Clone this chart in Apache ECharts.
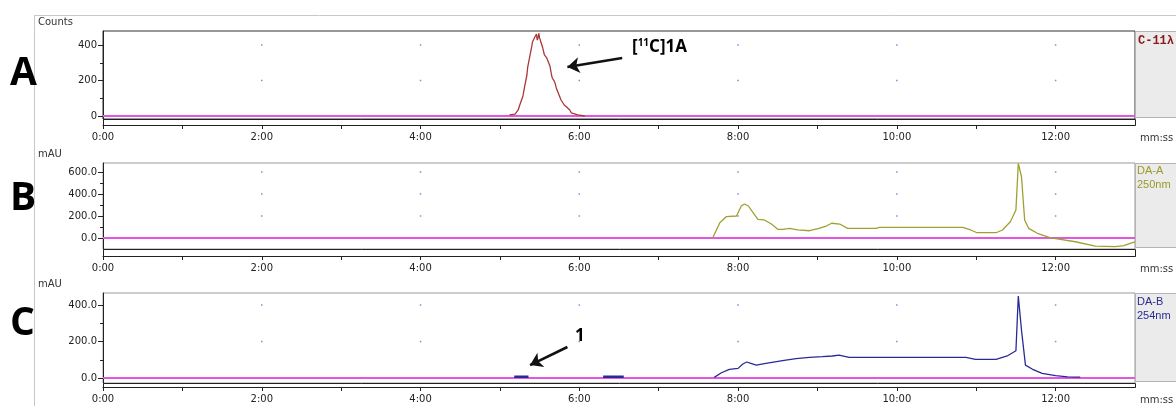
<!DOCTYPE html>
<html>
<head>
<meta charset="utf-8">
<script src="https://cdn.jsdelivr.net/npm/echarts@6/dist/echarts.min.js"></script>
<style>
  html, body { margin: 0; padding: 0; background: #fff; }
  #chart { width: 1176px; height: 406px; }
</style>
</head>
<body>
<div id="chart"></div>
<script>
// x axis (minutes)
const majorMinutes = [0, 2, 4, 6, 8, 10, 12]
const allMinutes = [0, 1, 2, 3, 4, 5, 6, 7, 8, 9, 10, 11, 12]

// y ticks per panel
const countsTicks = [0, 200, 400]
const countsMinor = [100, 300]
const daATicks = [0, 200, 400, 600]
const daAMinor = [100, 300, 500]
const daBTicks = [0, 200, 400]
const daBMinor = [100, 300]

// A: radio trace C-11
const c11Time = [5.12, 5.19, 5.23, 5.25, 5.29, 5.31, 5.34, 5.35, 5.38, 5.40, 5.41, 5.44, 5.46, 5.47, 5.48, 5.49, 5.50, 5.52, 5.54, 5.56, 5.59, 5.60, 5.63, 5.65, 5.66, 5.69, 5.71, 5.73, 5.75, 5.77, 5.79, 5.81, 5.84, 5.88, 5.90, 5.92, 5.98, 6.07]
const c11Counts = [6, 11, 34, 62, 113, 163, 231, 276, 344, 389, 417, 445, 462, 428, 440, 465, 440, 411, 383, 344, 327, 315, 282, 231, 214, 192, 158, 135, 113, 90, 85, 62, 51, 34, 17, 6, 6, 0]

// B: DA-A 250nm
const daATime = [7.68, 7.77, 7.85, 7.98, 8.04, 8.08, 8.13, 8.18, 8.25, 8.33, 8.42, 8.50, 8.56, 8.65, 8.75, 8.90, 9.02, 9.11, 9.18, 9.28, 9.38, 9.74, 9.78, 10.83, 10.93, 11.01, 11.25, 11.33, 11.43, 11.50, 11.53, 11.57, 11.61, 11.66, 11.77, 11.92, 11.98, 12.25, 12.50, 12.75, 12.86, 12.94, 13.0]
const daAValues = [0, 139, 194, 200, 291, 309, 291, 239, 170, 164, 127, 79, 79, 88, 73, 66, 88, 109, 134, 127, 88, 88, 97, 97, 73, 48, 48, 73, 148, 255, 679, 557, 164, 88, 43, 6, -3, -34, -73, -79, -70, -48, -36]

// C: DA-B 254nm
const daBTime = [7.70, 7.79, 7.89, 8.00, 8.06, 8.11, 8.16, 8.23, 8.35, 8.56, 8.73, 8.90, 9.06, 9.19, 9.27, 9.40, 10.87, 10.99, 11.25, 11.39, 11.50, 11.53, 11.57, 11.62, 11.71, 11.83, 12.00, 12.15, 12.31]
const daBValues = [4, 29, 48, 53, 77, 88, 81, 71, 81, 95, 106, 113, 117, 121, 126, 113, 113, 102, 102, 121, 150, 449, 263, 71, 48, 26, 13, 7, 5]
const daBBlipTime = [5.18, 5.36, null, 6.30, 6.56]
const daBBlipValues = [7, 7, null, 7, 7]

// annotation arrows, data units [min, value]
const arrowA = [[6.54, 327], [5.85, 276]]
const arrowC = [[5.85, 170], [5.38, 71]]

const PLOT_LEFT = 103
const PLOT_RIGHT = 1135

const panels = [
  { top: 31, bottom: 119, axis: 125, min: -17, max: 479, ticks: countsTicks, minor: countsMinor, digits: 0, color: '#a83838', time: c11Time, values: c11Counts, unit: 'Counts', letter: 'A', letterY: 74, border: '#333', arrow: arrowA },
  { top: 163, bottom: 249, axis: 256, min: -100, max: 682, ticks: daATicks, minor: daAMinor, digits: 1, color: '#a0a032', time: daATime, values: daAValues, unit: 'mAU', letter: 'B', letterY: 199, border: '#999' },
  { top: 293, bottom: 383, axis: 387, min: -27, max: 466, ticks: daBTicks, minor: daBMinor, digits: 1, color: '#2a2a96', time: daBTime, values: daBValues, unit: 'mAU', letter: 'C', letterY: 324, border: '#999', arrow: arrowC }
]

const chart = echarts.init(document.getElementById('chart'))

const grid = []
const xAxis = []
const yAxis = []
const series = []
const graphic = [
  { type: 'line', shape: { x1: 34.5, y1: 15, x2: 34.5, y2: 406 }, style: { stroke: '#c8c8c8', lineWidth: 1 } },
  { type: 'line', shape: { x1: 34, y1: 15.5, x2: 1176, y2: 15.5 }, style: { stroke: '#c8c8c8', lineWidth: 1 } }
]

panels.forEach((p, i) => {
  grid.push({
    left: PLOT_LEFT,
    top: p.top,
    width: PLOT_RIGHT - PLOT_LEFT,
    height: p.bottom - p.top,
    show: true,
    borderColor: p.border,
    borderWidth: 1,
    backgroundColor: '#fff'
  })
  xAxis.push({
    type: 'value',
    gridIndex: i,
    min: 0,
    max: 13,
    position: 'bottom',
    offset: p.axis - p.bottom,
    splitLine: { show: false },
    axisLine: { onZero: false, lineStyle: { color: '#222' } },
    axisTick: { customValues: allMinutes, length: 4, lineStyle: { color: '#222' } },
    axisLabel: {
      customValues: majorMinutes,
      formatter: v => v + ':00',
      color: '#222',
      fontSize: 10,
      margin: 7
    }
  })
  const yBase = {
    type: 'value',
    gridIndex: i,
    min: p.min,
    max: p.max,
    position: 'left',
    splitLine: { show: false }
  }
  yAxis.push(Object.assign({}, yBase, {
    axisLine: { show: true, onZero: false, lineStyle: { color: '#222' } },
    axisTick: { customValues: p.ticks, length: 5, lineStyle: { color: '#222' } },
    axisLabel: {
      customValues: p.ticks,
      formatter: v => v.toFixed(p.digits),
      color: '#222',
      fontSize: 10,
      margin: 6
    }
  }))
  yAxis.push(Object.assign({}, yBase, {
    axisLine: { show: false, onZero: false },
    axisTick: { customValues: p.minor, length: 3, lineStyle: { color: '#222' } },
    axisLabel: { show: false, customValues: p.minor }
  }))

  const dots = []
  majorMinutes.slice(1).forEach(m => p.ticks.forEach(v => dots.push([m, v])))
  series.push({
    type: 'scatter',
    xAxisIndex: i,
    yAxisIndex: 2 * i,
    data: dots,
    symbol: 'rect',
    symbolSize: 1.5,
    itemStyle: { color: '#6a6ad8' },
    silent: true,
    z: 1
  })
  series.push({
    type: 'line',
    xAxisIndex: i,
    yAxisIndex: 2 * i,
    data: [[0, 0], [13, 0]],
    showSymbol: false,
    lineStyle: { color: '#e455e4', width: 2 },
    silent: true,
    z: 2
  })
  const trace = {
    type: 'line',
    xAxisIndex: i,
    yAxisIndex: 2 * i,
    data: p.time.map((t, k) => [t, p.values[k]]),
    showSymbol: false,
    lineStyle: { color: p.color, width: 1.3 },
    silent: true,
    z: 3
  }
  if (p.arrow) {
    trace.markLine = {
      silent: true,
      symbol: ['none', 'arrow'],
      symbolSize: 12,
      lineStyle: { color: '#111', width: 2.6, type: 'solid' },
      label: { show: false },
      data: [[{ coord: p.arrow[0] }, { coord: p.arrow[1] }]]
    }
  }
  series.push(trace)

  graphic.push(
    { type: 'rect', shape: { x: PLOT_LEFT + 0.5, y: p.bottom + 0.5, width: PLOT_RIGHT - PLOT_LEFT, height: p.axis - p.bottom }, style: { fill: 'none', stroke: '#222', lineWidth: 1 } },
    { type: 'rect', shape: { x: PLOT_RIGHT + 0.5, y: p.top + 0.5, width: 44, height: p.bottom - p.top - 2 }, style: { fill: '#ebebeb', stroke: '#b4b4b4', lineWidth: 1 } },
    { type: 'text', x: 10, y: p.letterY, style: { text: p.letter, font: 'bold 39px "Open Sans"', fill: '#000', verticalAlign: 'middle' } },
    { type: 'text', x: 38, y: p.top - 9, style: { text: p.unit, font: '10px "DejaVu Sans"', fill: '#333', verticalAlign: 'middle' } },
    { type: 'text', x: 1140, y: p.axis + 13, style: { text: 'mm:ss', font: '10px "DejaVu Sans"', fill: '#333', verticalAlign: 'middle' } }
  )
})

series.push({
  type: 'line',
  xAxisIndex: 2,
  yAxisIndex: 4,
  data: daBBlipTime.map((t, k) => t === null ? ['-', '-'] : [t, daBBlipValues[k]]),
  showSymbol: false,
  connectNulls: false,
  lineStyle: { color: '#2a2a96', width: 2.5 },
  silent: true,
  z: 3
})

graphic.push(
  { type: 'text', x: 1138, y: 41, style: { text: 'C-11λ', font: 'bold 12px "Liberation Mono"', fill: '#8b1a1a', verticalAlign: 'middle' } },
  { type: 'text', x: 1137, y: 171, style: { text: 'DA-A', font: '11px "Liberation Sans"', fill: '#9a9a28', verticalAlign: 'middle' } },
  { type: 'text', x: 1137, y: 185, style: { text: '250nm', font: '11px "Liberation Sans"', fill: '#9a9a28', verticalAlign: 'middle' } },
  { type: 'text', x: 1137, y: 302, style: { text: 'DA-B', font: '11px "Liberation Sans"', fill: '#2a2a96', verticalAlign: 'middle' } },
  { type: 'text', x: 1137, y: 316, style: { text: '254nm', font: '11px "Liberation Sans"', fill: '#2a2a96', verticalAlign: 'middle' } },
  {
    type: 'text',
    x: 632,
    y: 47,
    style: {
      text: '{b|[}{s|11}{b|C]1A}',
      verticalAlign: 'middle',
      rich: {
        b: { fontFamily: 'Open Sans', fontWeight: 'bold', fontSize: 17, fill: '#000', color: '#000' },
        s: { fontFamily: 'Open Sans', fontWeight: 'bold', fontSize: 10, fill: '#000', color: '#000', verticalAlign: 'top' }
      }
    }
  },
  { type: 'text', x: 575, y: 336, style: { text: '1', font: 'bold 17px "Open Sans"', fill: '#000', verticalAlign: 'middle' } }
)

chart.setOption({
  animation: false,
  textStyle: { fontFamily: 'DejaVu Sans' },
  grid,
  xAxis,
  yAxis,
  series,
  graphic
})
</script>
</body>
</html>
